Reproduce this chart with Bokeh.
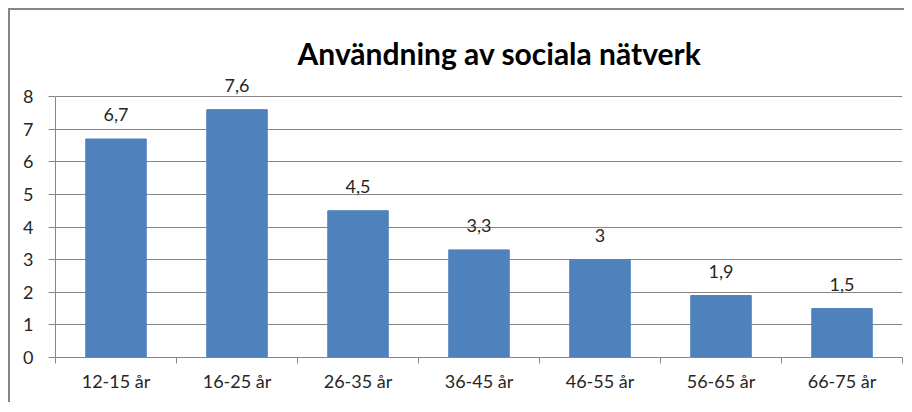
from bokeh.plotting import figure
from bokeh.layouts import column
from bokeh.models import ColumnDataSource, Range1d, FixedTicker, LabelSet
from bokeh.core.properties import value
from bokeh.embed import file_html
from bokeh.resources import INLINE

categories = ["12-15 år", "16-25 år", "26-35 år", "36-45 år", "46-55 år", "56-65 år", "66-75 år"]
values = [6.7, 7.6, 4.5, 3.3, 3, 1.9, 1.5]
y_ticks = [0, 1, 2, 3, 4, 5, 6, 7, 8]
title_text = "Användning av sociala nätverk"

n = len(categories)
centers = [i + 0.5 for i in range(n)]
edges = list(range(n + 1))
labels = [f"{v:g}".replace(".", ",") for v in values]
src = ColumnDataSource(dict(x=centers, cat=categories, val=values, lbl=labels))

GRAY = "#868686"
TXT = "#262626"
FONT = "Lato"

p = figure(x_range=Range1d(0, n), y_range=Range1d(0, 8.8),
           frame_width=847, frame_height=287,
           min_border_left=45, min_border_right=2, min_border_top=60, min_border_bottom=45,
           output_backend="svg", toolbar_location=None,
           title=title_text)
p.outline_line_color = None

p.title.align = "left"
p.title.text_font = FONT
p.title.text_font_size = "30px"
p.title.text_font_style = "bold"
p.title.text_color = "#000000"
p.title.standoff = 0
p.title.offset = 242

p.vbar(x="x", top="val", width=0.5, source=src, color="#4F81BD")

p.add_layout(LabelSet(x="x", y="val", text="lbl", source=src, text_align="center",
                      text_baseline="alphabetic", y_offset=18, text_font=value(FONT),
                      text_font_size=value("18px"), text_color=TXT))

# y axis
p.yaxis.ticker = FixedTicker(ticks=y_ticks)
p.yaxis.bounds = (0, 8)
p.yaxis.axis_line_color = GRAY
p.yaxis.major_tick_line_color = GRAY
p.yaxis.major_tick_in = 0
p.yaxis.major_tick_out = 7
p.yaxis.minor_tick_line_color = None
p.yaxis.major_label_standoff = 15
p.yaxis.major_label_text_font = FONT
p.yaxis.major_label_text_font_size = "18px"
p.yaxis.major_label_text_color = TXT

p.ygrid.ticker = FixedTicker(ticks=y_ticks)
p.ygrid.grid_line_color = GRAY
p.xgrid.visible = False

# x axis: category labels at centers, ticks at boundaries
p.xaxis.ticker = FixedTicker(ticks=centers, minor_ticks=edges)
p.xaxis.major_label_overrides = {c: cat for c, cat in zip(centers, categories)}
p.xaxis.axis_line_color = GRAY
p.xaxis.major_tick_line_color = None
p.xaxis.minor_tick_line_color = GRAY
p.xaxis.minor_tick_in = 0
p.xaxis.minor_tick_out = 6
p.xaxis.major_label_standoff = 6
p.xaxis.major_label_text_font = FONT
p.xaxis.major_label_text_font_size = "18px"
p.xaxis.major_label_text_color = TXT

layout = column(p, styles={"border-top": f"2px solid {GRAY}", "border-left": f"2px solid {GRAY}",
                           "margin-left": "8px", "margin-top": "8px"})

open("out.html", "w").write(file_html(layout, INLINE))
